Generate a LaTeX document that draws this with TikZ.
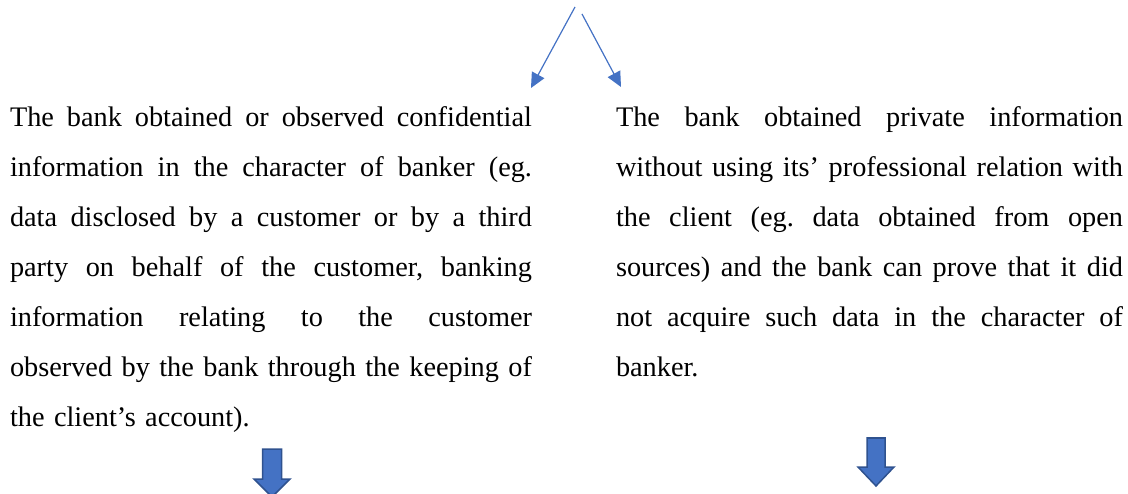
\documentclass[tikz,border=0pt]{standalone}
\usepackage{fontspec}
\setmainfont{Liberation Serif}
\usetikzlibrary{arrows.meta}
\definecolor{accent}{HTML}{4472C4}
\definecolor{accentdark}{HTML}{2F528F}
\newcommand{\jl}[2]{\makebox[#1][s]{\spaceskip=0pt\xspaceskip=0pt\relax #2}}
\frenchspacing
\begin{document}
\begin{tikzpicture}[x=1pt,y=-1pt,
  para/.style={inner sep=0pt, outer sep=0pt, anchor=base west, align=left,
    font=\fontsize{28.3}{50}\selectfont},
  thinarrow/.style={draw=accent, line width=1.2pt, -{Triangle[length=15pt,width=14pt]}},
  blockarrow/.style={fill=accent, draw=accentdark, line width=1.5pt, line join=miter}]
\useasboundingbox (0,0) rectangle (1128,494);

\node[para, text width=522pt] (left) at (10,127) {%
\jl{522pt}{The bank obtained or observed confidential}\\
\jl{522pt}{information in the character of banker (eg.}\\
\jl{522pt}{data disclosed by a customer or by a third}\\
\jl{522pt}{party on behalf of the customer, banking}\\
\jl{522pt}{information relating to the customer}\\
\jl{522pt}{observed by the bank through the keeping of}\\
the client’s account).};

\node[para, text width=507pt] (right) at (616,127) {%
\jl{507pt}{The bank obtained private information}\\
\jl{507pt}{without using its’ professional relation with}\\
\jl{507pt}{the client (eg. data obtained from open}\\
\jl{507pt}{sources) and the bank can prove that it did}\\
\jl{507pt}{not acquire such data in the character of}\\
banker.};

\coordinate (lstart) at (575,7);
\coordinate (ltip) at (531,88);
\coordinate (rstart) at (582,14);
\coordinate (rtip) at (621,87);
\draw[thinarrow] (lstart) -- (ltip);
\draw[thinarrow] (rstart) -- (rtip);

\draw[blockarrow] (262.5,449) -- (281.5,449) -- (281.5,479) -- (290,479)
  -- (272,497) -- (254,479) -- (262.5,479) -- cycle;
\draw[blockarrow] (867,438) -- (885,438) -- (885,467) -- (894,467)
  -- (876,486) -- (858,467) -- (867,467) -- cycle;
\end{tikzpicture}
\end{document}
